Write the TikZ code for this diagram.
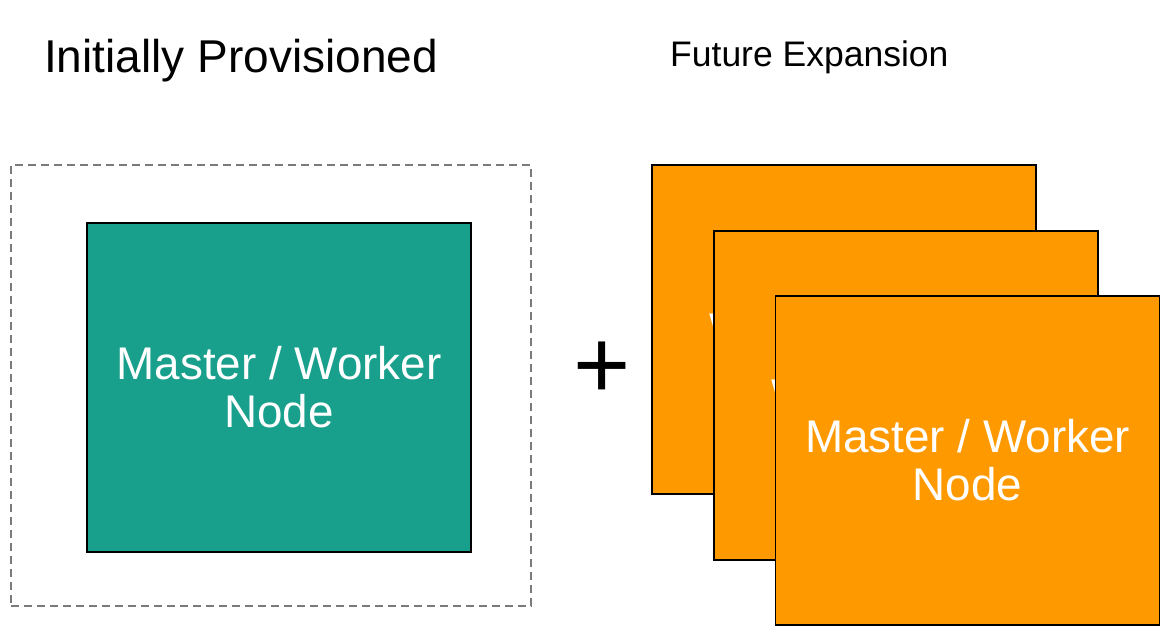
\documentclass[tikz,border=0pt]{standalone}
\usepackage{fontspec}
\setmainfont{Liberation Sans}
\definecolor{tealfill}{HTML}{18A08C}
\definecolor{orangefill}{HTML}{FF9900}
\definecolor{dashgray}{HTML}{7A7A7A}
\begin{document}
\begin{tikzpicture}[x=1pt,y=-1pt,
  box/.style={draw=black, line width=1.5pt, minimum width=384pt, minimum height=329pt,
    inner sep=0pt, text=white, align=center, font=\fontsize{45.8}{48}\selectfont},
  tealbox/.style={box, fill=tealfill},
  orangebox/.style={box, fill=orangefill},
  frame/.style={draw=dashgray, line width=1.5pt, dash pattern=on 8pt off 5pt,
    minimum width=520pt, minimum height=441pt, inner sep=0pt},
  title/.style={anchor=base west, inner sep=0pt, text=black}
]
\useasboundingbox (0,0) rectangle (1174,638);
\fill[white] (0,0) rectangle (1174,638);

\node[title, font=\fontsize{46}{48}\selectfont] (t1) at (44,72) {Initially Provisioned};
\node[title, font=\fontsize{35.5}{38}\selectfont] (t2) at (670,66) {Future Expansion};

\node[frame] (group) at (271,385.5) {};
\node[tealbox] (initial) at (279,387.5) {Master / Worker\\Node};

\node[anchor=base, inner sep=0pt, font=\fontsize{98}{100}\selectfont] (plus) at (602.5,398) {+};

\node[orangebox] (f1) at (844,329.5) {Worker Node};
\node[orangebox] (f2) at (906,395.5) {Worker Node};
\node[orangebox] (f3) at (967.5,460.5) {Master / Worker\\Node};
\end{tikzpicture}
\end{document}
